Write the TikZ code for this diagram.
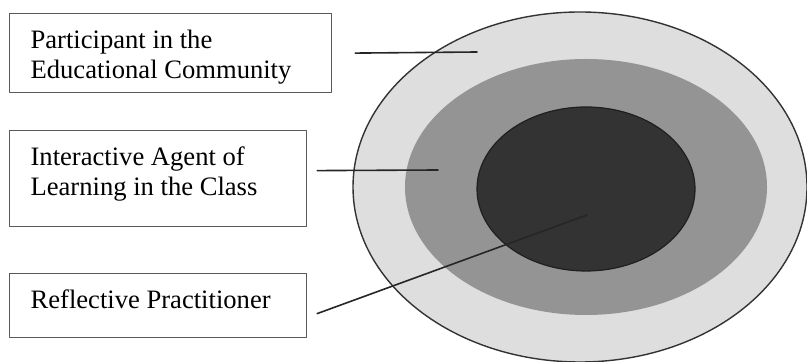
\documentclass[tikz,border=0pt]{standalone}
\usepackage{fontspec}
\setmainfont{Liberation Serif}
\usetikzlibrary{arrows.meta}
\tikzset{
  every picture/.style={line join=round, line cap=round},
  rolebox/.style={draw=black!65, line width=0.6pt, fill=white, anchor=north west,
    inner xsep=10.5pt, inner ysep=8pt, font=\fontsize{13.3}{15}\selectfont},
  pointer/.style={draw=black!85, line width=0.8pt},
}
\newcommand{\roletext}[3]{\parbox[c][#1][t]{#2}{#3}}

\begin{document}
\begin{tikzpicture}[x=0.5pt,y=-0.5pt]
\useasboundingbox (0,0) rectangle (807,362);
% rings
\fill[black!13] (580,187) ellipse [x radius=227,y radius=175];
\draw[black!80,line width=0.7pt] (580,187) ellipse [x radius=227,y radius=175];
\fill[black!42] (586,187) ellipse [x radius=181,y radius=128];
\filldraw[fill=black!80,draw=black!88,line width=0.6pt] (586,189) ellipse [x radius=109,y radius=82];
% boxes
\node[rolebox] (comm) at (9,13) {\roletext{23.5pt}{140pt}{Participant in the\\Educational Community}};
\node[rolebox] (class) at (9,130) {\roletext{32pt}{127.5pt}{Interactive Agent of\\Learning in the Class}};
\node[rolebox] (refl) at (9,273) {\roletext{16pt}{127.5pt}{Reflective Practitioner}};
\coordinate (outerring) at (477,52);
\coordinate (midring) at (438,170);
\coordinate (innerring) at (587,215);
\draw[pointer] ([xshift=11.5pt]comm.east) -- (outerring);
\draw[pointer] ([xshift=5pt,yshift=4pt]class.east) -- (midring);
\draw[pointer] ([xshift=5pt,yshift=-4pt]refl.east) -- (innerring);
\end{tikzpicture}
\end{document}
